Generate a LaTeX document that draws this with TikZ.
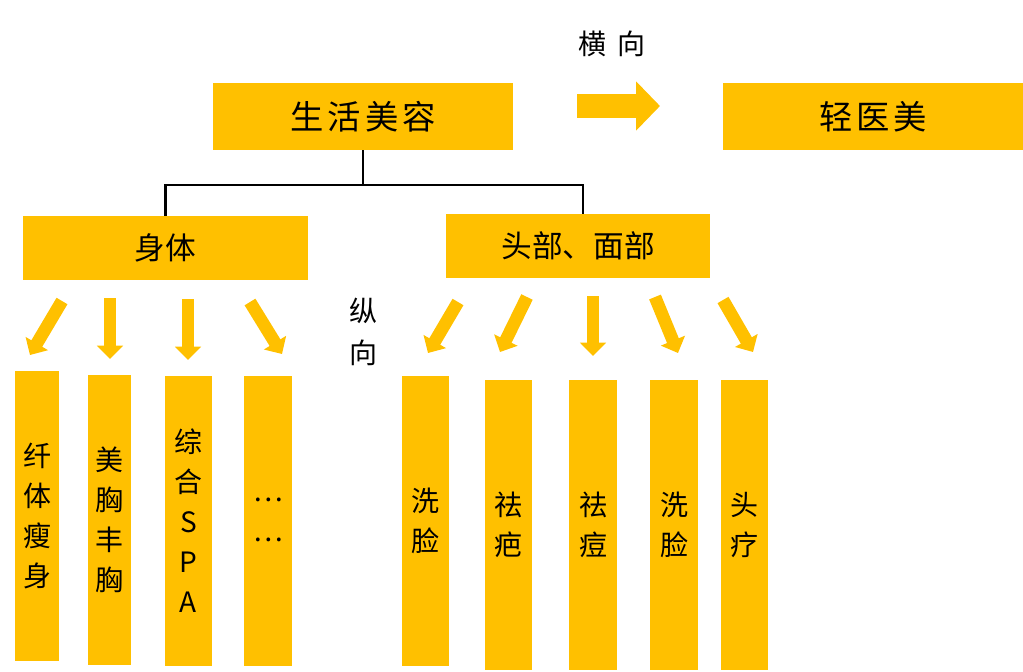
\documentclass[tikz,border=0pt]{standalone}
\usepackage{fontspec}
\usetikzlibrary{arrows.meta}
\newfontfamily\cjk{Noto Sans CJK SC}
\newfontfamily\cjkwide[LetterSpace=12]{Noto Sans CJK SC}
\definecolor{gold}{HTML}{FFC000}

\begin{document}
\begin{tikzpicture}[x=0.75pt, y=-0.75pt,
  box/.style={fill=gold, inner sep=0pt},
  head/.style={box, minimum width=225pt, minimum height=50.25pt, font=\cjkwide\fontsize{25}{30}\selectfont},
  branch/.style={box, minimum height=48pt, font=\cjk\fontsize{23}{30}\selectfont},
  leaf/.style={box, minimum width=35.25pt, minimum height=217.5pt, align=center, font=\cjk\fontsize{21}{30}\selectfont},
  tree/.style={draw, line width=2.2pt},
  down arrow/.style={draw=gold, line width=9.5pt, -{Triangle[length=10pt,width=19pt]}},
  side arrow/.style={draw=gold, line width=18pt, -{Triangle[length=18pt,width=36pt]}}]
\useasboundingbox (0,0) rectangle (1023,671);

\node[head] (life) at (363,116.5) {生活美容};
\node[head] (medical) at (873,116.5) {轻医美};
\node[font=\cjk\fontsize{21}{30}\selectfont] (horiz) at (612,44) {横\hspace{8pt}向};
\draw[side arrow] (577,106) -- (660,106);

\node[branch, minimum width=213.75pt] (body) at (165.5,248) {身体};
\node[branch, minimum width=198pt] (face) at (578,246) {头部、面部};
\coordinate (fork) at (363,185);
\draw[tree] (life.south) -- (fork);
\draw[tree] (body.north) |- (fork) -| ([xshift=3.75pt]face.north);

\node[font=\cjk\fontsize{21}{32}\selectfont, align=center] (vert) at (363,332) {纵\\向};

% body side
\draw[down arrow] (62,301) -- (30,355);
\draw[down arrow] (110,298) -- (110,359);
\draw[down arrow] (188,299) -- (188,360);
\draw[down arrow] (250,302) -- (282,354);
\node[leaf, minimum width=33pt] (slim) at (37,516) {纤\\体\\瘦\\身};
\node[leaf, minimum width=32.25pt] (bust) at (109.5,519.5) {美\\胸\\丰\\胸};
\node[leaf] (spa) at (188.5,521) {综\\合\\S\\P\\A};
\node[leaf, minimum width=36pt] (more) at (268,521) {\raisebox{0.1em}{…}\\\raisebox{0.1em}{…}};

% face side
\draw[down arrow] (458,302) -- (428,353);
\draw[down arrow] (527,297) -- (500,352);
\draw[down arrow] (593,296) -- (593,356);
\draw[down arrow] (655,297) -- (678,353);
\draw[down arrow] (723,300) -- (753,352);
\node[leaf] (wash1) at (425.5,521) {洗\\脸};
\node[leaf] (scar) at (508.5,525) {祛\\疤};
\node[leaf, minimum width=36pt] (acne) at (593,525) {祛\\痘};
\node[leaf, minimum width=36pt] (wash2) at (674,525) {洗\\脸};
\node[leaf] (scalp) at (744.5,525) {头\\疗};

\end{tikzpicture}
\end{document}
